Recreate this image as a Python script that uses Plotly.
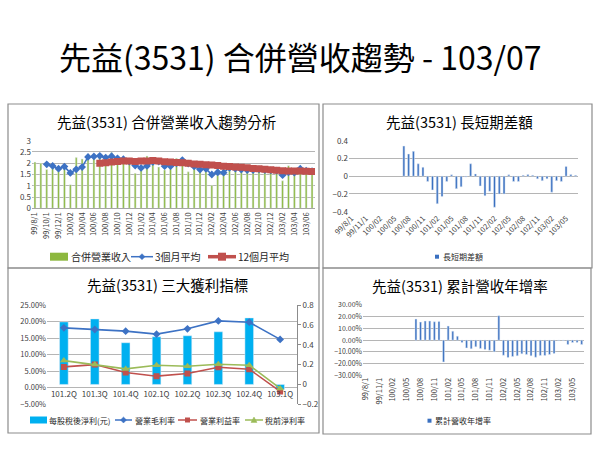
import plotly.graph_objects as go

# ---------------- data ----------------
months = ["99/8/1", "99/9/1", "99/10/1", "99/11/1", "99/12/1",
          "100/01", "100/02", "100/03", "100/04", "100/05", "100/06",
          "100/07", "100/08", "100/09", "100/10", "100/11", "100/12",
          "101/01", "101/02", "101/03", "101/04", "101/05", "101/06",
          "101/07", "101/08", "101/09", "101/10", "101/11", "101/12",
          "102/01", "102/02", "102/03", "102/04", "102/05", "102/06",
          "102/07", "102/08", "102/09", "102/10", "102/11", "102/12",
          "103/01", "103/02", "103/03", "103/04", "103/05", "103/06", "103/07"]

revenue = [2.05, 2.00, 1.72, 1.85, 1.77, 1.88, 1.05, 2.25, 2.19, 2.30,
           2.30, 2.35, 2.10, 2.48, 2.10, 2.05, 2.05, 1.55, 1.75, 2.32,
           2.05, 1.83, 1.70, 2.05, 2.22, 2.10, 1.62, 1.85, 1.72, 1.70,
           1.02, 1.85, 1.90, 1.72, 1.75, 1.68, 1.65, 1.75, 1.78, 1.65,
           1.62, 1.72, 1.22, 1.89, 1.62, 1.78, 1.62, 1.62]

avg3 = [None, None, 1.95, 1.88, 1.76, 1.85, 1.57, 1.73, 1.83, 2.28,
        2.30, 2.33, 2.25, 2.31, 2.22, 2.18, 2.07, 1.90, 1.79, 1.88,
        2.05, 2.07, 1.87, 1.87, 2.00, 2.14, 1.98, 1.86, 1.72, 1.75,
        1.50, 1.60, 1.58, 1.80, 1.76, 1.72, 1.70, 1.70, 1.73, 1.70,
        1.68, 1.67, 1.47, 1.60, 1.58, 1.76, 1.67, 1.65]

avg12 = [None, None, None, None, None, None, None, None, None, None, None,
         2.00, 2.02, 2.05, 2.08, 2.10, 2.10, 2.08, 2.10, 2.10, 2.12,
         2.10, 2.07, 2.05, 2.03, 2.02, 2.00, 1.97, 1.95, 1.93, 1.92,
         1.90, 1.87, 1.85, 1.83, 1.82, 1.80, 1.77, 1.75, 1.73, 1.71,
         1.69, 1.67, 1.66, 1.65, 1.65, 1.64, 1.63]

diff = [None, None, None, None, None, None, None, None, None, None, None,
        0.34, 0.25, 0.28, 0.14, 0.10, -0.06, -0.155, -0.31, -0.23, -0.06,
        0.015, -0.14, -0.12, -0.01, 0.14, 0.025, -0.11, -0.22, -0.17, -0.35,
        -0.20, -0.20, 0.015, -0.06, -0.06, 0.01, 0.02, 0.01, -0.03, -0.05,
        -0.03, -0.18, -0.05, -0.06, 0.11, 0.02, 0.01]

cum_yoy = [None, None, None, None, None, None, None, None, None, None, None,
           0.180, 0.154, 0.163, 0.163, 0.157, 0.160, -0.186, 0.120, 0.077, 0.034,
           -0.020, -0.066, -0.074, -0.057, -0.071, -0.080, -0.086, -0.100, 0.209, -0.129,
           -0.149, -0.140, -0.134, -0.117, -0.123, -0.134, -0.146, -0.131, -0.131, -0.123,
           -0.114, -0.005, -0.005, -0.037, -0.020, -0.020, -0.037]

quarters = ["101.2Q", "101.3Q", "101.4Q", "102.1Q", "102.2Q", "102.3Q", "102.4Q", "103.1Q"]
eps = [0.63, 0.66, 0.42, 0.48, 0.49, 0.53, 0.67, -0.05]
gross_margin = [0.181, 0.176, 0.171, 0.162, 0.178, 0.202, 0.198, 0.146]
op_margin = [0.063, 0.070, 0.046, 0.035, 0.043, 0.062, 0.056, -0.011]
pretax_margin = [0.082, 0.070, 0.057, 0.068, 0.065, 0.071, 0.068, -0.002]

ticks_2m = months[::2]
ticks_3m = months[::3]

main_title = "先益(3531) 合併營收趨勢 - 103/07"
titles = ["先益(3531) 合併營業收入趨勢分析", "先益(3531) 長短期差額",
          "先益(3531) 三大獲利指標", "先益(3531) 累計營收年增率"]

# ---------------- styling helpers ----------------
W, H = 600, 450
FONT = "Noto Sans CJK TC, Noto Sans, sans-serif"
GREEN = "#8DB83F"
BLUE = "#3D72C4"
RED = "#C0504D"
LGREEN = "#9BBB59"
CYAN = "#00B0F0"
BARBLUE = "#3A70C0"
GRID = "#B5B5B5"
TICKC = "#404040"


def px(x):
    return x / W


def py(y):
    return 1 - y / H


shapes = []
annotations = []


def text(label, x, y, size, anchor="center", color="#000000"):
    annotations.append(dict(text=label, x=px(x), y=py(y), xref="paper", yref="paper",
                            xanchor=anchor, yanchor="middle", showarrow=False,
                            font=dict(size=size, color=color, family=FONT)))


def rect(x0, y0, x1, y1, fill=None, line=None, lw=0):
    shapes.append(dict(type="rect", xref="paper", yref="paper",
                       x0=px(x0), x1=px(x1), y0=py(y1), y1=py(y0),
                       fillcolor=fill if fill else "rgba(0,0,0,0)",
                       line=dict(color=line if line else "rgba(0,0,0,0)", width=lw)))


def path(points, fill):
    d = "M " + " L ".join(f"{px(a):.5f},{py(b):.5f}" for a, b in points) + " Z"
    shapes.append(dict(type="path", xref="paper", yref="paper", path=d,
                       fillcolor=fill, line=dict(color=fill, width=0.5)))


def leg_line(x0, w, yc, color, lw, marker, ms):
    shapes.append(dict(type="line", xref="paper", yref="paper",
                       x0=px(x0), x1=px(x0 + w), y0=py(yc), y1=py(yc),
                       line=dict(color=color, width=lw)))
    cx = x0 + w / 2
    s = ms / 2
    if marker == "square":
        rect(cx - s, yc - s, cx + s, yc + s, fill=color)
    elif marker == "diamond":
        path([(cx, yc - s), (cx + s, yc), (cx, yc + s), (cx - s, yc)], color)
    elif marker == "triangle":
        path([(cx, yc - s), (cx + s, yc + s * 0.8), (cx - s, yc + s * 0.8)], color)


# panel borders
for (x0, y0, x1, y1) in [(8, 104, 319, 268), (323, 104, 592, 268),
                         (8, 268, 319, 433), (323, 268, 591, 434)]:
    rect(x0, y0, x1, y1, line="#8C8C8C", lw=1.2)

# titles
text(main_title, 300, 56, 32)
text(titles[0], 166, 121, 14.5)
text(titles[1], 459, 121, 14.5)
text(titles[2], 167, 284, 14.5)
text(titles[3], 460, 285, 14.5)

# manual legends
# chart 1
rect(50, 252.7, 68, 260.7, fill=GREEN)
text("合併營業收入", 68.5, 256.7, 10, "left", "#262626")
leg_line(131, 22, 256.7, BLUE, 1.5, "diamond", 6)
text("3個月平均", 153, 256.7, 10, "left", "#262626")
leg_line(208, 28, 256.7, RED, 3.5, "square", 8)
text("12個月平均", 236, 256.7, 10, "left", "#262626")
# chart 2
rect(435, 254.7, 439, 258.7, fill=BARBLUE)
text("長短期差額", 440.5, 256.7, 8, "left", "#262626")
# chart 3
rect(30, 416.5, 47, 423.5, fill=CYAN)
text("每股稅後淨利(元)", 47, 420, 8, "left", "#262626")
leg_line(115, 17, 420, BLUE, 1.5, "diamond", 6)
text("營業毛利率", 132.5, 420, 8, "left", "#262626")
leg_line(178, 19, 420, RED, 1.5, "square", 5)
text("營業利益率", 197.5, 420, 8, "left", "#262626")
leg_line(245, 18, 420, LGREEN, 1.5, "triangle", 6)
text("稅前淨利率", 262.5, 420, 8, "left", "#262626")
# chart 4
rect(427.5, 418.7, 431.5, 422.7, fill=BARBLUE)
text("累計營收年增率", 433, 420.7, 8, "left", "#262626")

# ---------------- traces ----------------
fig = go.Figure()

# chart 1
fig.add_trace(go.Bar(x=months, y=revenue, name="合併營業收入", marker_color=GREEN,
                     width=0.32, xaxis="x", yaxis="y"))
fig.add_trace(go.Scatter(x=months, y=avg3, name="3個月平均", mode="lines+markers",
                         line=dict(color=BLUE, width=1.6),
                         marker=dict(symbol="diamond", size=6, color=BLUE),
                         xaxis="x", yaxis="y"))
fig.add_trace(go.Scatter(x=months, y=avg12, name="12個月平均", mode="lines+markers",
                         line=dict(color=RED, width=3.5),
                         marker=dict(symbol="square", size=7, color=RED),
                         xaxis="x", yaxis="y"))

# chart 2
fig.add_trace(go.Bar(x=months, y=diff, name="長短期差額", marker_color=BARBLUE,
                     width=0.42, xaxis="x2", yaxis="y2"))

# chart 3 (bars on right axis y3, lines on left axis y4)
fig.add_trace(go.Bar(x=quarters, y=eps, name="每股稅後淨利(元)", marker_color=CYAN,
                     width=0.28, xaxis="x3", yaxis="y3"))
fig.add_trace(go.Scatter(x=quarters, y=gross_margin, name="營業毛利率", mode="lines+markers",
                         line=dict(color=BLUE, width=1.6),
                         marker=dict(symbol="diamond", size=6, color=BLUE),
                         xaxis="x3", yaxis="y4"))
fig.add_trace(go.Scatter(x=quarters, y=op_margin, name="營業利益率", mode="lines+markers",
                         line=dict(color=RED, width=1.6),
                         marker=dict(symbol="square", size=6, color=RED),
                         xaxis="x3", yaxis="y4"))
fig.add_trace(go.Scatter(x=quarters, y=pretax_margin, name="稅前淨利率", mode="lines+markers",
                         line=dict(color=LGREEN, width=1.6),
                         marker=dict(symbol="triangle-up", size=7, color=LGREEN),
                         xaxis="x3", yaxis="y4"))

# chart 4
fig.add_trace(go.Bar(x=months, y=cum_yoy, name="累計營收年增率", marker_color=BARBLUE,
                     width=0.42, xaxis="x4", yaxis="y5"))

tickfont7 = dict(size=7.5, color=TICKC, family=FONT)
tickfont8 = dict(size=8, color=TICKC, family=FONT)

cat_common = dict(type="category", categoryorder="array", categoryarray=months,
                  range=[-0.5, len(months) - 0.5], tickmode="array",
                  showgrid=False, ticks="", zeroline=False, automargin=False)

fig.update_layout(
    width=W, height=H, autosize=False,
    margin=dict(l=0, r=0, t=0, b=0, pad=0, autoexpand=False),
    paper_bgcolor="white", plot_bgcolor="white",
    font=dict(family=FONT, color=TICKC),
    showlegend=False,
    barmode="overlay",
    shapes=shapes,
    annotations=annotations,
    xaxis=dict(domain=[px(32), px(315)], anchor="y", tickvals=ticks_2m, ticktext=ticks_2m,
               tickangle=-90, tickfont=tickfont7, showline=True, linecolor="#A6A6A6",
               **cat_common),
    yaxis=dict(domain=[py(208.3), py(140.7)], anchor="x", range=[0, 3], dtick=0.5, tick0=0,
               showgrid=True, gridcolor=GRID, gridwidth=1, zeroline=False, ticks="",
               tickfont=tickfont8, automargin=False),
    xaxis2=dict(domain=[px(349), px(578)], anchor="y2", tickvals=ticks_3m, ticktext=ticks_3m,
                tickangle=-45, tickfont=tickfont7, showline=False, **cat_common),
    yaxis2=dict(domain=[py(211.7), py(140.7)], anchor="x2", range=[-0.4, 0.4], dtick=0.2,
                tick0=0, showgrid=True, gridcolor=GRID, zeroline=False, ticks="",
                tickfont=tickfont8, automargin=False),
    xaxis3=dict(domain=[px(47), px(297)], anchor="free", position=py(387.7), type="category",
                showgrid=False, ticks="", zeroline=False, showline=False, tickfont=tickfont8,
                automargin=False),
    yaxis3=dict(anchor="x3", domain=[py(404.3), py(305)], side="right", range=[-0.2, 0.8],
                dtick=0.2, tick0=0, showgrid=False, zeroline=False, showline=True,
                linecolor="#8C8C8C", ticks="outside", ticklen=3, tickcolor="#8C8C8C",
                tickfont=tickfont8, automargin=False),
    yaxis4=dict(anchor="x3", overlaying="y3", side="left", range=[-0.05, 0.25], dtick=0.05,
                tick0=0, tickformat=".2%", showgrid=True, gridcolor=GRID, zeroline=False,
                ticks="", tickfont=dict(size=7.5, color=TICKC, family=FONT), automargin=False),
    xaxis4=dict(domain=[px(363), px(584)], anchor="y5", tickvals=ticks_3m, ticktext=ticks_3m,
                tickangle=-90, tickfont=tickfont7, showline=False, **cat_common),
    yaxis5=dict(domain=[py(375.3), py(305)], anchor="x4", range=[-0.3, 0.3], dtick=0.1,
                tick0=0, tickformat=".2%", showgrid=True, gridcolor=GRID, zeroline=False,
                ticks="", tickfont=dict(size=7, color=TICKC, family=FONT), automargin=False),
)

fig.write_html("out.html", config={"displayModeBar": False},
               post_script="document.body.style.margin='0';document.body.style.padding='0';")
